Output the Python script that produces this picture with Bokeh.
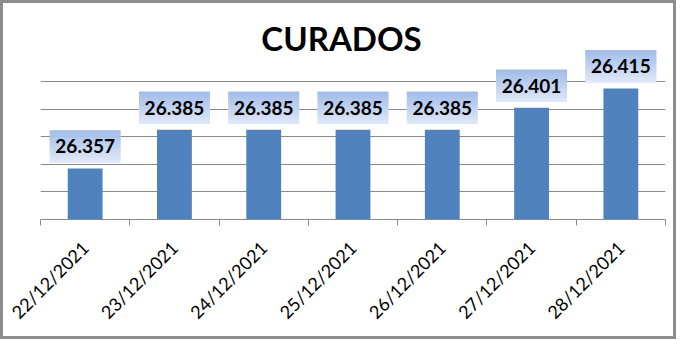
import math
from bokeh.plotting import figure
from bokeh.models import FixedTicker, Label, ColumnDataSource
from bokeh.core.properties import value
from bokeh.embed import file_html
from bokeh.resources import INLINE

# ---- data ----
dates = ["22/12/2021", "23/12/2021", "24/12/2021", "25/12/2021",
         "26/12/2021", "27/12/2021", "28/12/2021"]
curados = [26357, 26385, 26385, 26385, 26385, 26401, 26415]
value_labels = ["26.357", "26.385", "26.385", "26.385", "26.385", "26.401", "26.415"]
grid_ticks = [26320, 26340, 26360, 26380, 26400, 26420]
title_text = "CURADOS"

# ---- layout ----
W, H = 676, 339
ML, MR, MT, MB = 37, 14, 5, 123
FRAME_H = H - MT - MB
Y0 = 26320
PPU = 1.38  # pixels per unit
Y1 = Y0 + FRAME_H / PPU

FONT = "Lato"
BAR_COLOR = "#4f81bd"
GRID_COLOR = "#8a8a8a"

n = len(dates)
xs = [i + 0.5 for i in range(n)]

p = figure(width=W, height=H, x_range=(0, n), y_range=(Y0, Y1),
           output_backend="svg", toolbar_location=None,
           min_border_left=ML, min_border_right=MR,
           min_border_top=MT, min_border_bottom=MB)
p.styles = {"border": "3px solid #8c8c8c"}
p.outline_line_color = None
p.background_fill_color = "white"
p.border_fill_color = "white"

# bars
p.vbar(x=xs, top=curados, bottom=Y0, width=0.39, color=BAR_COLOR, line_color=None)

# label boxes with vertical gradient
BOX_W, BOX_H, GAP = 71, 32, 6
NSTRIP = 16
top_rgb = (160, 187, 233)
bot_rgb = (224, 232, 247)
sh = BOX_H / NSTRIP
for k in range(NSTRIP):
    t = (k + 0.5) / NSTRIP
    col = tuple(int(round(top_rgb[j] + (bot_rgb[j] - top_rgb[j]) * t)) for j in range(3))
    hexcol = "#%02x%02x%02x" % col
    off_px = GAP + BOX_H - (k + 0.5) * sh
    ys = [v + off_px / PPU for v in curados]
    p.rect(x=xs, y=ys, width=BOX_W, width_units="screen",
           height=sh + 0.6, height_units="screen",
           fill_color=hexcol, line_color=None)

src = ColumnDataSource(dict(x=xs, y=[v + (GAP + BOX_H / 2) / PPU for v in curados],
                            t=value_labels))
p.text(x="x", y="y", text="t", source=src, text_align="center",
       text_baseline="middle", text_font=value(FONT), text_font_style="bold",
       text_font_size="19px", text_color="black")

# grid
p.xgrid.visible = False
p.ygrid.ticker = FixedTicker(ticks=grid_ticks)
p.ygrid.grid_line_color = GRID_COLOR
p.ygrid.grid_line_width = 1
p.yaxis.visible = False

# x axis: labels at centers, tick marks at boundaries
xa = p.xaxis[0]
xa.ticker = FixedTicker(ticks=xs, minor_ticks=list(range(n + 1)))
xa.major_label_overrides = {x: d for x, d in zip(xs, dates)}
xa.major_tick_line_color = None
xa.minor_tick_line_color = GRID_COLOR
xa.minor_tick_out = 6
xa.minor_tick_in = 0
xa.axis_line_color = GRID_COLOR
xa.major_label_orientation = math.pi / 4
xa.major_label_text_font = FONT
xa.major_label_text_font_size = "18px"
xa.major_label_text_color = "black"
xa.major_label_standoff = 19

# title
p.add_layout(Label(x=(349 - 48), y=(227 - 45), x_units="screen", y_units="screen",
                   text=title_text, text_align="center", text_baseline="middle",
                   text_font=FONT, text_font_style="bold", text_font_size="33px",
                   text_color="black"))

open("out.html", "w").write(file_html(p, INLINE))
